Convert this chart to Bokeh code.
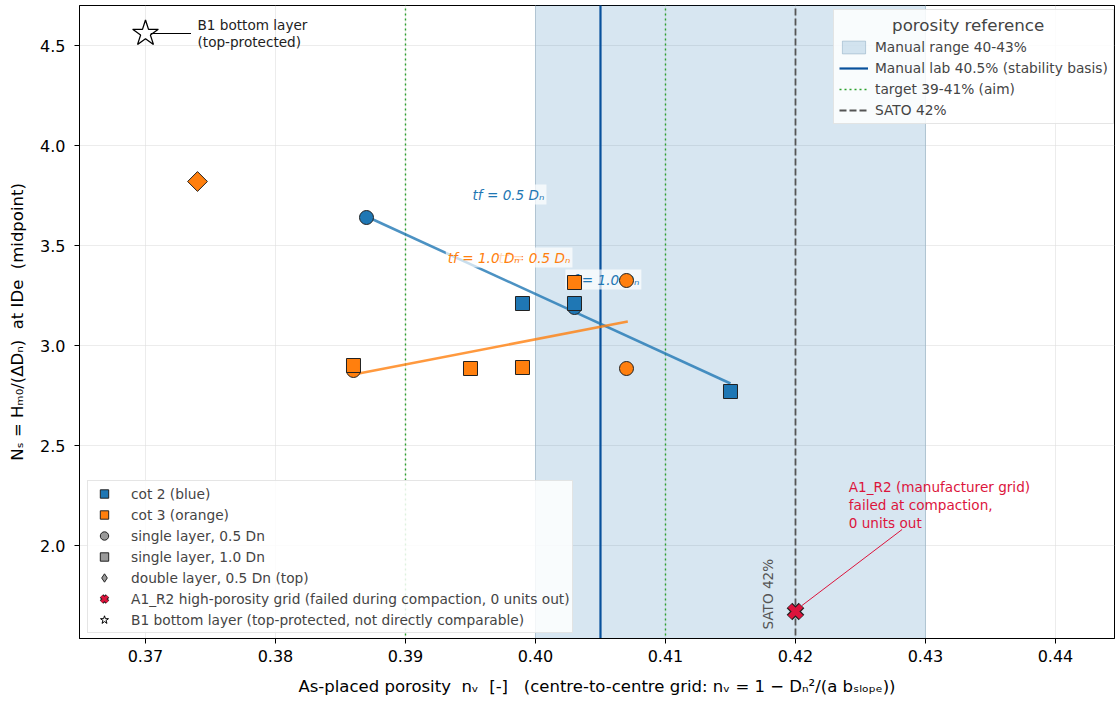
import numpy as np
from bokeh.plotting import figure
from bokeh.models import (Range1d, FixedTicker, Legend, LegendItem, Label,
                          NumeralTickFormatter)
from bokeh.core.properties import value
from bokeh.embed import file_html
from bokeh.resources import INLINE

# ---------------- data ----------------
x_ticks = [0.37, 0.38, 0.39, 0.40, 0.41, 0.42, 0.43, 0.44]
y_ticks = [2.0, 2.5, 3.0, 3.5, 4.0, 4.5]

manual_range = [0.40, 0.43]
manual_lab = [0.405]
target = [0.39, 0.41]
sato = [0.42]

# cot 2 (blue)
cot2_sq_x = [0.399, 0.403, 0.415]
cot2_sq_y = [3.21, 3.21, 2.77]
cot2_ci_x = [0.387, 0.403]
cot2_ci_y = [3.64, 3.19]
# cot 3 (orange)
cot3_sq_x = [0.386, 0.395, 0.399, 0.403]
cot3_sq_y = [2.90, 2.885, 2.89, 3.315]
cot3_ci_x = [0.386, 0.407, 0.407]
cot3_ci_y = [2.875, 3.325, 2.885]
cot3_di_x = [0.374]
cot3_di_y = [3.82]
# special cases
a1r2_x = [0.420]
a1r2_y = [1.67]
b1_x = [0.370]
b1_y = [4.56]
# trend lines (end points)
fit_blue_x = [0.387, 0.415]
fit_blue_y = [3.645, 2.81]
fit_orange_x = [0.386, 0.4071]
fit_orange_y = [2.855, 3.12]

BLUE = "#1f77b4"
ORANGE = "#ff7f0e"
GRAY = "#9a9a9a"
RED = "#dc143c"
FONT = "DejaVu Sans"
NB = "\u00a0"
NAN = [float("nan")]

p = figure(width=1115, height=700, output_backend="svg", toolbar_location=None,
           x_range=Range1d(0.364923, 0.44454), y_range=Range1d(1.535, 4.70),
           min_border_left=79, min_border_right=1, min_border_top=5,
           min_border_bottom=62)
p.background_fill_color = "white"
p.border_fill_color = "white"
p.outline_line_color = "black"
p.outline_line_width = 1

# axes
p.xaxis.ticker = FixedTicker(ticks=x_ticks)
p.yaxis.ticker = FixedTicker(ticks=y_ticks)
p.xaxis.formatter = NumeralTickFormatter(format="0.00")
p.yaxis.formatter = NumeralTickFormatter(format="0.0")
for ax in (p.xaxis, p.yaxis):
    ax.major_tick_in = 0
    ax.major_tick_out = 5
    ax.minor_tick_in = 0
    ax.minor_tick_out = 0
    ax.major_label_text_font = FONT
    ax.major_label_text_font_size = "16px"
    ax.major_label_text_color = "black"
    ax.axis_label_text_font = FONT
    ax.axis_label_text_font_size = "16.5px"
    ax.axis_label_text_font_style = "normal"
    ax.axis_label_text_color = "black"
    ax.axis_line_color = "black"
    ax.major_tick_line_color = "black"
p.xaxis.axis_label = ("As-placed porosity" + NB * 2 + "n\u1d65" + NB * 2 + "[-]" + NB * 3 +
                      "(centre-to-centre grid: n\u1d65 = 1 \u2212 D\u2099\u00b2/(a b\u209b\u2097\u2092\u209a\u2091))")
p.yaxis.axis_label = ("N\u209b = H\u2098\u2080/(\u0394D\u2099)" + NB * 2 + "at IDe" + NB * 2 + "(midpoint)")
p.yaxis.major_label_standoff = 9
p.xaxis.major_label_standoff = 6
p.yaxis.axis_label_standoff = 10
p.xaxis.axis_label_standoff = 12

p.grid.grid_line_color = "#dddddd"
p.grid.grid_line_alpha = 0.7
p.grid.grid_line_width = 0.8

# ---------------- reference band and lines ----------------
r_band = p.quad(left=[manual_range[0]], right=[manual_range[1]], bottom=[0], top=[10],
                fill_color=BLUE, fill_alpha=0.18, line_color="#7f9fb8", line_alpha=0.45,
                line_width=1)
r_target = p.segment(x0=target, y0=[0, 0], x1=target, y1=[10, 10],
                     line_color="#2ca02c", line_width=1.4, line_dash="2 3")
r_lab = p.segment(x0=manual_lab, y0=[0], x1=manual_lab, y1=[10],
                  line_color="#08519c", line_width=2.2)
r_sato = p.segment(x0=sato, y0=[0], x1=sato, y1=[10],
                   line_color="#555555", line_width=1.8, line_dash="7 3")

# trend lines
p.line(fit_blue_x, fit_blue_y, line_color=BLUE, line_alpha=0.8, line_width=2.6)
p.line(fit_orange_x, fit_orange_y, line_color=ORANGE, line_alpha=0.8, line_width=2.6)

# t_f labels (drawn below markers)
txt_kw = dict(text_font=value(FONT), text_font_size="13.6px", text_font_style="italic",
              text_align="left", text_baseline="middle",
              background_fill_color="white", background_fill_alpha=0.7, padding=2)
p.text(x=[0.3950], y=[3.755], text=["tf = 0.5 D\u2099"], text_color=BLUE, **txt_kw)
p.text(x=[0.3970], y=[3.44], text=["tf = 0.5 D\u2099"], text_color=ORANGE, **txt_kw)
p.text(x=[0.3931], y=[3.44], text=["tf = 1.0 D\u2099"], text_color=ORANGE, **txt_kw)
p.text(x=[0.4023], y=[3.33], text=["tf = 1.0 D\u2099"], text_color=BLUE, **txt_kw)

# ---------------- markers ----------------
mk = dict(line_color="#222222", line_width=1)
p.scatter(cot2_ci_x, cot2_ci_y, marker="circle", size=14, fill_color=BLUE, **mk)
p.scatter(cot3_ci_x, cot3_ci_y, marker="circle", size=14, fill_color=ORANGE, **mk)
r_c2sq = p.scatter(cot2_sq_x, cot2_sq_y, marker="square", size=14, fill_color=BLUE, **mk)
r_c3sq = p.scatter(cot3_sq_x, cot3_sq_y, marker="square", size=14, fill_color=ORANGE, **mk)
p.scatter(cot3_di_x, cot3_di_y, marker="square", angle=np.pi / 4, size=14,
          fill_color=ORANGE, **mk)
p.scatter(a1r2_x, a1r2_y, marker="x", size=17, line_color="#222222", line_width=8)
p.scatter(a1r2_x, a1r2_y, marker="x", size=16, line_color=RED, line_width=5.5)
p.scatter(b1_x, b1_y, marker="star", size=27, fill_color="white",
          line_color="black", line_width=1.3)

# legend-only proxies (not drawn in the plot area)
r_g_ci = p.scatter(x=NAN, y=NAN, marker="circle", size=14, fill_color=GRAY, **mk)
r_g_sq = p.scatter(x=NAN, y=NAN, marker="square", size=14, fill_color=GRAY, **mk)
r_g_di = p.scatter(x=NAN, y=NAN, marker="diamond", size=20, fill_color=GRAY, **mk)
r_lx_bg = p.scatter(x=NAN, y=NAN, marker="x", size=14, line_color="#222222", line_width=5)
r_lx_fg = p.scatter(x=NAN, y=NAN, marker="x", size=14, line_color=RED, line_width=3)
r_lstar = p.scatter(x=NAN, y=NAN, marker="star", size=20, fill_color="white",
                    line_color="black", line_width=1)

# ---------------- annotations ----------------
p.line([0.3704, 0.3735], [4.56, 4.56], line_color="black", line_width=1.2)
p.add_layout(Label(x=0.3740, y=4.56, text="B1 bottom layer\n(top-protected)",
                   text_font=FONT, text_font_size="13.6px", text_color="#222222",
                   text_baseline="middle", text_align="left", text_line_height=1.1))

p.segment(x0=[0.4282], y0=[2.08], x1=[0.4205], y1=[1.70], line_color=RED, line_width=1)
p.add_layout(Label(x=0.4241, y=2.335, text="A1_R2 (manufacturer grid)\nfailed at compaction,\n0 units out",
                   text_font=FONT, text_font_size="13.6px", text_color=RED,
                   text_baseline="top", text_align="left", text_line_height=1.15))

p.add_layout(Label(x=0.41785, y=1.58, text="SATO 42%", angle=np.pi / 2,
                   text_font=FONT, text_font_size="13.6px", text_color="#555555",
                   text_baseline="middle", text_align="left"))

# ---------------- legends ----------------
leg1 = Legend(items=[
    LegendItem(label="Manual range 40-43%", renderers=[r_band]),
    LegendItem(label="Manual lab 40.5% (stability basis)", renderers=[r_lab]),
    LegendItem(label="target 39-41% (aim)", renderers=[r_target]),
    LegendItem(label="SATO 42%", renderers=[r_sato]),
], location=(754, 514), title=NB * 10 + "porosity reference")
leg1.margin = 0
leg1.padding = 5
leg1.glyph_width = 29
leg1.glyph_height = 16
leg1.label_height = 16
leg1.spacing = 5
leg1.label_standoff = 7
leg1.title_standoff = 4
leg1.title_text_font = FONT
leg1.title_text_font_size = "16.7px"
leg1.title_text_font_style = "normal"
leg1.label_text_font = FONT
leg1.label_text_font_size = "13.75px"
leg1.background_fill_alpha = 0.85
leg1.border_line_color = "#cccccc"
leg1.border_line_width = 1

leg2 = Legend(items=[
    LegendItem(label="cot 2 (blue)", renderers=[r_c2sq]),
    LegendItem(label="cot 3 (orange)", renderers=[r_c3sq]),
    LegendItem(label="single layer, 0.5 Dn", renderers=[r_g_ci]),
    LegendItem(label="single layer, 1.0 Dn", renderers=[r_g_sq]),
    LegendItem(label="double layer, 0.5 Dn (top)", renderers=[r_g_di]),
    LegendItem(label="A1_R2 high-porosity grid (failed during compaction, 0 units out)",
               renderers=[r_lx_bg, r_lx_fg]),
    LegendItem(label="B1 bottom layer (top-protected, not directly comparable)",
               renderers=[r_lstar]),
], location=(8, 5))
leg2.margin = 0
leg2.padding = 2
leg2.glyph_width = 28
leg2.glyph_height = 21
leg2.label_height = 21
leg2.spacing = 0
leg2.label_standoff = 13
leg2.label_text_font = FONT
leg2.label_text_font_size = "13.75px"
leg2.background_fill_alpha = 0.85
leg2.border_line_color = "#cccccc"
leg2.border_line_width = 1

p.add_layout(leg1)
p.add_layout(leg2)

open("out.html", "w").write(file_html(p, INLINE))
